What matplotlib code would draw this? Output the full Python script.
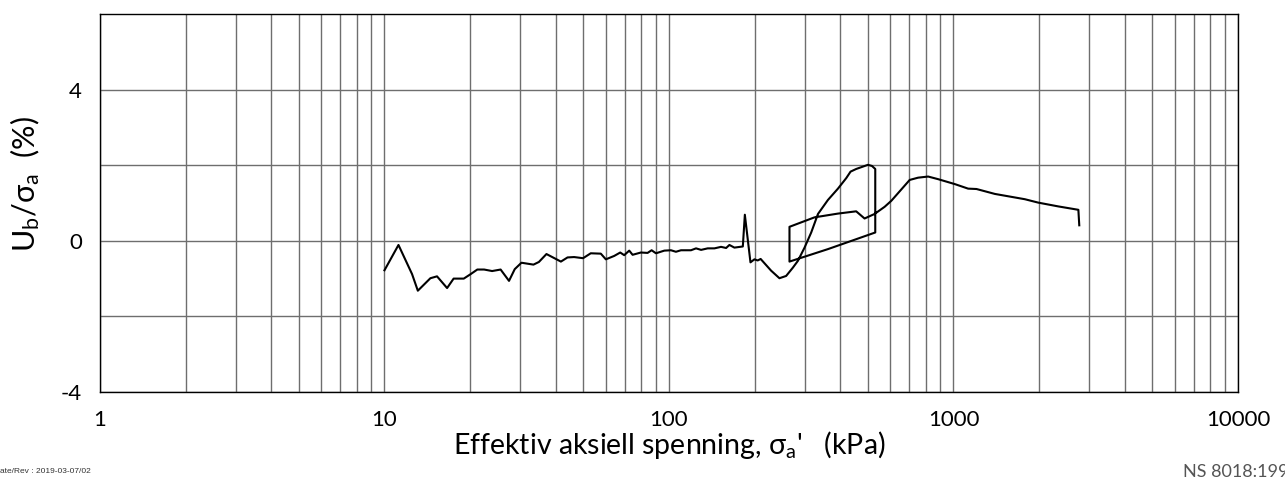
import matplotlib
matplotlib.use("Agg")
import matplotlib.pyplot as plt
from matplotlib.ticker import FixedLocator, LogLocator, NullFormatter
import numpy as np

plt.rcParams["axes.unicode_minus"] = False

# loading branch, 10 kPa up to the spike at ~185 kPa
load_x = [10.0, 11.2, 12.5, 13.1, 14.5, 15.3, 16.6, 17.5, 19.0, 20.1, 21.2, 22.4, 23.9, 25.6,
          27.4, 28.7, 30.3, 33.4, 34.9, 37.1, 41.7, 44.0, 46.4, 49.9, 53.1, 57.6, 60.0, 64.2,
          67.4, 69.6, 72.5, 74.5, 79.7, 84.1, 86.9, 90.0, 96.3, 101.6, 105.8, 110.2, 119.5,
          124.5, 129.7, 136.8, 144.5, 152.4, 158.8, 163.1, 169.8, 181.8, 184.8]
load_y = [-0.78, -0.11, -0.88, -1.32, -0.99, -0.94, -1.25, -1.00, -1.00, -0.88, -0.76, -0.76,
          -0.80, -0.76, -1.06, -0.75, -0.58, -0.63, -0.56, -0.35, -0.55, -0.44, -0.43, -0.46,
          -0.33, -0.34, -0.49, -0.40, -0.31, -0.38, -0.26, -0.37, -0.31, -0.32, -0.25, -0.33,
          -0.26, -0.25, -0.29, -0.25, -0.25, -0.20, -0.24, -0.20, -0.20, -0.16, -0.19, -0.11,
          -0.18, -0.15, 0.69]

# after the spike: dip and rise to the first peak, then unload / reload loop
loop_x = [193.4, 199.7, 205.0, 210.0, 228.6, 244.5, 258.1, 272.6, 283.9, 299.6, 316.2, 334.0,
          362.0, 392.6, 420.0, 434.8, 455.0, 500.6, 517.0, 531.0, 531.0, 362.0, 265.2, 265.2,
          324.6, 392.6, 455.0, 487.0, 528.0, 573.0, 605.0, 701.6, 751.0, 814.6, 883.6, 1011.0,
          1126.0, 1205.0, 1398.0, 1782.0, 1986.0, 2335.0, 2748.0, 2768.0]
loop_y = [-0.57, -0.49, -0.52, -0.48, -0.79, -0.99, -0.93, -0.71, -0.53, -0.18, 0.22, 0.71,
          1.08, 1.38, 1.66, 1.83, 1.90, 2.01, 1.98, 1.90, 0.22, -0.22, -0.55, 0.37,
          0.62, 0.72, 0.78, 0.59, 0.71, 0.90, 1.06, 1.61, 1.67, 1.70, 1.63, 1.50,
          1.38, 1.37, 1.24, 1.10, 1.01, 0.91, 0.82, 0.41]

x = load_x + loop_x
y = load_y + loop_y

fig = plt.figure(figsize=(12.85, 4.79), dpi=100)
ax = fig.add_axes([0.0778, 0.1816, 0.8856, 0.7892])

ax.plot(x, y, color="black", lw=1.5)

ax.set_xscale("log")
ax.set_xlim(1, 10000)
ax.set_ylim(-4, 6)
ax.xaxis.set_major_locator(FixedLocator([1, 10, 100, 1000, 10000]))
ax.xaxis.set_minor_locator(LogLocator(base=10, subs=np.arange(2, 10)))
ax.xaxis.set_minor_formatter(NullFormatter())
ax.set_xticklabels(["1", "10", "100", "1000", "10000"])
ax.yaxis.set_major_locator(FixedLocator([-4, 0, 4]))
ax.yaxis.set_minor_locator(FixedLocator([-2, 2]))
ax.set_yticklabels(["-4", "0", "4"])
ax.grid(True, which="both", color="#6e6e6e", lw=1.0)
ax.tick_params(which="both", length=0, labelsize=16, pad=13)
for lab in ax.get_xticklabels() + ax.get_yticklabels():
    lab.set_family("Lato")
for s in ax.spines.values():
    s.set_color("black")
    s.set_linewidth(1.0)

ax.set_xlabel("Effektiv aksiell spenning, $\\mathregular{\\sigma_a}$'   (kPa)",
              fontsize=20.5, family="Lato", labelpad=-1)
ax.set_ylabel("U$\\mathregular{_b}$/$\\mathregular{\\sigma_a}$  (%)", fontsize=22,
              family="Lato")
ax.yaxis.set_label_coords(-0.051, 0.55)

fig.text(-0.005, 0.012, "Date/Rev : 2019-03-07/02", fontsize=6, color="#333333",
         family="Liberation Sans")
fig.text(0.9206, 0.004, "NS 8018:1993", fontsize=13, color="#555555", family="Lato",
         va="baseline")

fig.savefig("out.png", dpi=100)
